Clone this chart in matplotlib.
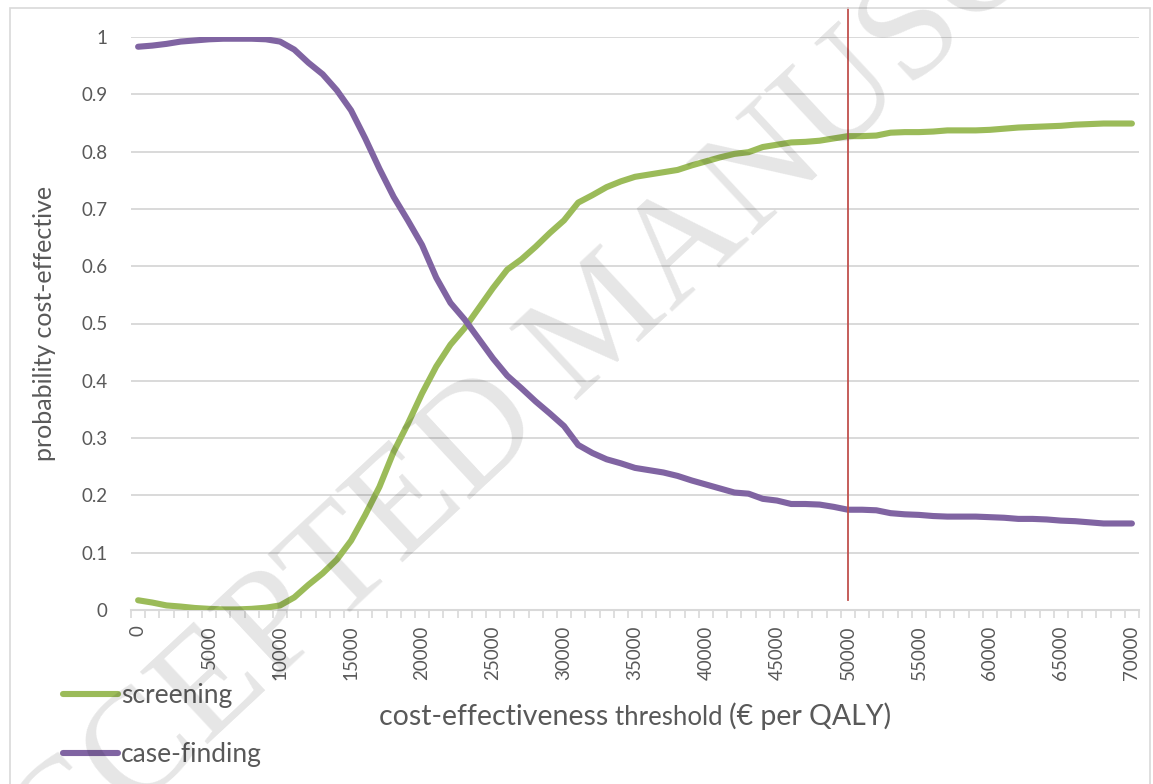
import matplotlib
matplotlib.use("Agg")
import matplotlib.pyplot as plt
from matplotlib.patches import Rectangle

# ---- data ----
thresholds = list(range(0, 70001, 1000))
screening = [0.017, 0.013, 0.008, 0.006, 0.0035, 0.002, 0.001, 0.001, 0.002, 0.004,
             0.008, 0.022, 0.044, 0.064, 0.088, 0.121, 0.166, 0.215, 0.276, 0.325,
             0.378, 0.425, 0.463, 0.492, 0.527, 0.562, 0.594, 0.612, 0.634, 0.658,
             0.680, 0.711, 0.724, 0.738, 0.748, 0.756, 0.760, 0.764, 0.768, 0.776,
             0.783, 0.790, 0.796, 0.799, 0.808, 0.812, 0.816, 0.817, 0.819, 0.823,
             0.827, 0.827, 0.828, 0.833, 0.834, 0.834, 0.835, 0.837, 0.837, 0.837,
             0.838, 0.840, 0.842, 0.843, 0.844, 0.845, 0.847, 0.848, 0.849, 0.849,
             0.849]
case_finding = [0.983, 0.985, 0.988, 0.992, 0.994, 0.996, 0.997, 0.997, 0.997, 0.996,
                0.992, 0.978, 0.955, 0.935, 0.907, 0.872, 0.823, 0.770, 0.721, 0.680,
                0.637, 0.580, 0.536, 0.507, 0.473, 0.439, 0.409, 0.387, 0.364, 0.343,
                0.321, 0.288, 0.274, 0.263, 0.256, 0.248, 0.244, 0.240, 0.234, 0.226,
                0.219, 0.212, 0.205, 0.203, 0.194, 0.191, 0.185, 0.185, 0.184, 0.180,
                0.175, 0.175, 0.174, 0.169, 0.167, 0.166, 0.164, 0.163, 0.163, 0.163,
                0.162, 0.161, 0.159, 0.159, 0.158, 0.156, 0.155, 0.153, 0.151, 0.151,
                0.151]
series_names = ["screening", "case-finding"]
reference_threshold = 50000
x_tick_values = list(range(0, 70001, 5000))
y_tick_values = [0, 0.1, 0.2, 0.3, 0.4, 0.5, 0.6, 0.7, 0.8, 0.9, 1]
y_tick_labels = ["0", "0.1", "0.2", "0.3", "0.4", "0.5", "0.6", "0.7", "0.8", "0.9", "1"]
x_label_parts = ["cost-effectiveness ", "threshold ", "(\u20ac per QALY)"]
y_label = "probability cost-effective"
watermark = "ACCEPTED MANUSCRIPT"

# ---- style ----
FONT = ["Lato", "DejaVu Sans"]
TXT = "#595959"
GRID = "#d9d9d9"
GREEN = "#9bbb59"
PURPLE = "#8064a2"
RED = "#c0504d"

W, H = 1153, 784
fig = plt.figure(figsize=(W / 100, H / 100), dpi=100)
ax = fig.add_axes([131 / W, 1 - 610 / H, (1139 - 131) / W, (610 - 37) / H])

ax.plot(thresholds, screening, color=GREEN, lw=4.4, solid_capstyle="round",
        solid_joinstyle="round", label=series_names[0], zorder=3)
ax.plot(thresholds, case_finding, color=PURPLE, lw=4.4, solid_capstyle="round",
        solid_joinstyle="round", label=series_names[1], zorder=3)

ax.axvline(reference_threshold, ymin=10 / 573, ymax=(610 - 8) / 573, color=RED,
           lw=1.3, clip_on=False, zorder=4)

ax.set_xlim(-500, 70500)
ax.set_ylim(0, 1)

ax.set_yticks(y_tick_values)
ax.set_yticklabels(y_tick_labels)
ax.set_xticks(x_tick_values)
ax.set_xticklabels([str(v) for v in x_tick_values], rotation=90)
ax.set_xticks([v - 500 for v in thresholds] + [70500], minor=True)

ax.tick_params(axis="y", length=0, pad=17, labelsize=13.5, labelcolor=TXT)
ax.tick_params(axis="x", which="major", length=0, pad=11, labelsize=13.5, labelcolor=TXT)
ax.tick_params(axis="x", which="minor", length=6, width=1.2, color=GRID, direction="out")
for lab in ax.get_xticklabels() + ax.get_yticklabels():
    lab.set_fontfamily(FONT)

for s in ["left", "right", "top"]:
    ax.spines[s].set_visible(False)
ax.spines["bottom"].set_color(GRID)
ax.spines["bottom"].set_linewidth(1.5)

ax.yaxis.grid(True, color=GRID, lw=1.4)
ax.set_axisbelow(True)

ax.set_ylabel(y_label, fontsize=18, color=TXT, fontfamily=FONT, va="center")
ax.yaxis.set_label_coords((45 - 131) / 1008, 0.5)

# x label in three pieces (middle word smaller), centred under the axes
renderer = fig.canvas.get_renderer()
sizes = [20.5, 18.5, 20.5]
pieces = []
for txt, sz in zip(x_label_parts, sizes):
    t = fig.text(0, 1 - 725 / H, txt, fontsize=sz, color=TXT, family=FONT,
                 ha="left", va="baseline")
    pieces.append(t)
widths = [p.get_window_extent(renderer).width for p in pieces]
total = sum(widths)
x0 = 635 - total / 2
for p, w in zip(pieces, widths):
    p.set_x(x0 / W)
    x0 += w

leg = fig.legend(loc="upper left", bbox_to_anchor=(63 / W, 1 - 683 / H),
                 frameon=False, handlelength=2.1, handletextpad=0.1,
                 labelspacing=1.3, borderpad=0, borderaxespad=0,
                 prop={"family": FONT, "size": 19})
for t in leg.get_texts():
    t.set_color(TXT)

# watermark
fig.text(605 / W, 1 - 324 / H, watermark, fontsize=108,
         family=["Liberation Serif", "DejaVu Serif"],
         color="black", alpha=0.1, rotation=43, ha="center", va="center",
         rotation_mode="anchor", zorder=10)

# chart border
fig.patches.append(Rectangle((10 / W, -0.05), (1150 - 10) / W, 1 - 8 / H + 0.05,
                             transform=fig.transFigure, fill=False, ec=GRID, lw=1.2))

fig.savefig("out.png", dpi=100)
